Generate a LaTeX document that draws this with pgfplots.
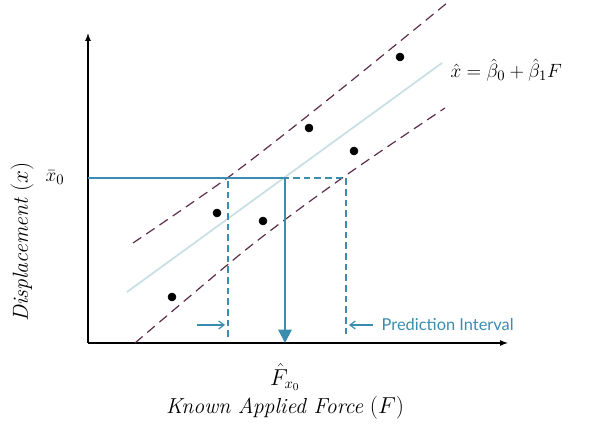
\documentclass[border=0pt]{standalone}
\usepackage{fontspec}
\usepackage{pgfplots}
\pgfplotsset{compat=1.18}
\usetikzlibrary{arrows.meta}
\newfontfamily\lato{Lato}
\definecolor{pblue}{HTML}{3A8DAE}
\definecolor{band}{HTML}{5E2D4A}
\definecolor{regl}{HTML}{C8DFE4}
\begin{document}
\begin{tikzpicture}
\begin{axis}[
  x=0.75pt, y=0.75pt,
  xmin=88, xmax=508, ymin=84, ymax=394,
  axis lines=left,
  axis line style={line width=0.8pt, black, -{Latex[length=6pt,width=4.5pt]}},
  xtick=\empty, ytick=\empty,
  clip=false,
]
% regression line
\addplot[regl, line width=1.3pt] coordinates {(127,135) (442,364)};
% prediction bands
\addplot[band, line width=0.9pt, dash pattern=on 7.5pt off 4.5pt, smooth] coordinates {(133,184) (230,251) (330,329) (447,424)};
\addplot[band, line width=0.9pt, dash pattern=on 7.5pt off 4.5pt, smooth] coordinates {(135,84) (248,179) (345,251) (445,319)};
% data points
\addplot[only marks, mark=*, mark size=3pt, black] coordinates {
(172,130) (217,214) (263,206) (309,299) (354,276) (400,370)};
% interval construction
\addplot[pblue, line width=1.1pt, dash pattern=on 5pt off 3pt] coordinates {(228,90) (228,249) (346,249) (346,90)};
\addplot[pblue, line width=1.5pt] coordinates {(88,249) (285,249)};
\addplot[pblue, line width=1.5pt, -{Triangle[length=10pt,width=10pt]}] coordinates {(285,249) (285,84)};
\addplot[pblue, line width=0.9pt, -{Straight Barb[length=4pt,width=6pt]}] coordinates {(197,102) (225,102)};
\addplot[pblue, line width=0.9pt, -{Straight Barb[length=4pt,width=6pt]}] coordinates {(373,102) (349,102)};
% labels
\node[anchor=west, text=pblue, font=\lato\fontsize{12.3}{14}\selectfont] at (axis cs:377,102) {Prediction Interval};
\node[anchor=east, font=\fontsize{15}{18}\selectfont] at (axis cs:69,249) {$\bar{x}_0$};
\node[font=\fontsize{16}{19}\selectfont] at (axis cs:285,50) {$\hat{F}_{x_0}$};
\node[font=\fontsize{16.3}{19}\selectfont] at (axis cs:285,19) {\textit{Known Applied Force} $(F)$};
\node[rotate=90, font=\fontsize{16.3}{19}\selectfont] at (axis cs:22,185) {\textit{Displacement} $(x)$};
\node[anchor=west, font=\fontsize{15}{18}\selectfont] at (axis cs:446,357) {$\hat{x}=\hat{\beta}_0+\hat{\beta}_1F$};
\coordinate (bl) at (axis cs:0,0);
\coordinate (tr) at (axis cs:589,427);
\end{axis}
\pgfresetboundingbox
\path (bl) rectangle (tr);
\end{tikzpicture}
\end{document}
